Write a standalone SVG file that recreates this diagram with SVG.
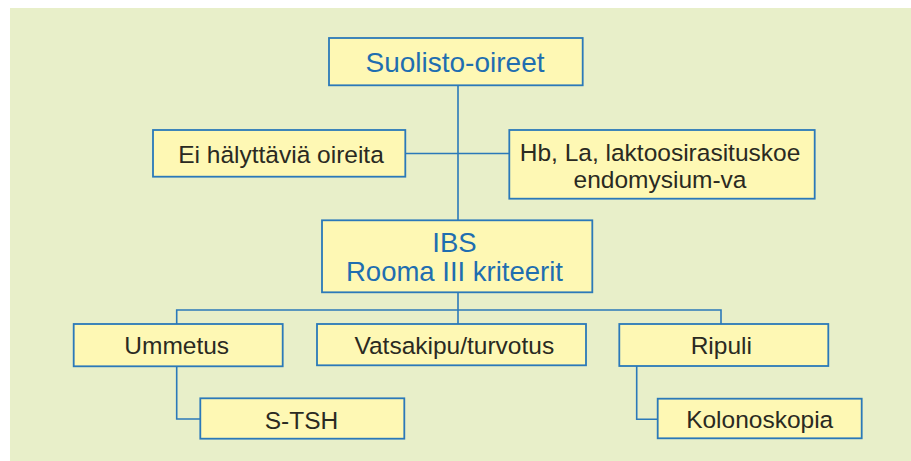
<svg xmlns="http://www.w3.org/2000/svg" width="911" height="461" viewBox="0 0 911 461">
<style>
.box{fill:#fef8b4;stroke:#2b79b9;stroke-width:1.8}
.ln{fill:none;stroke:#2b79b9;stroke-width:1.6}
.t{font-family:"Liberation Sans",Arial,sans-serif;font-size:24.5px;fill:#2a2a22;text-anchor:middle}
.tb{font-family:"Liberation Sans",Arial,sans-serif;fill:#1f6eb0;text-anchor:middle}
</style>
<rect x="10" y="8" width="901" height="453" fill="#e8efc9"/>
<g id="connectors">
<path class="ln" d="M458,85 V220 M405,153.5 H509 M458,292 V324 M176.7,324 V310 H721 V324 M176.7,366 V419 H200.3 M636.7,366 V419.3 H657.7"/>
</g>
<g id="suolisto">
<rect class="box" x="329" y="38" width="253.7" height="47.3"/>
<text class="tb" x="455" y="71.7" font-size="28">Suolisto-oireet</text>
</g>
<g id="ei">
<rect class="box" x="153" y="130" width="252.3" height="46.7"/>
<text class="t" x="281" y="163.3">Ei hälyttäviä oireita</text>
</g>
<g id="hb">
<rect class="box" x="509.3" y="130" width="305.4" height="68.7"/>
<text class="t" x="660" y="160.7">Hb, La, laktoosirasituskoe</text>
<text class="t" x="660" y="188.3">endomysium-va</text>
</g>
<g id="ibs">
<rect class="box" x="322" y="220.3" width="270.3" height="72"/>
<text class="tb" x="454.5" y="251.7" font-size="27.5">IBS</text>
<text class="tb" x="454.5" y="280.7" font-size="27.5">Rooma III kriteerit</text>
</g>
<g id="ummetus">
<rect class="box" x="73.7" y="324" width="209" height="42.3"/>
<text class="t" x="176.7" y="354">Ummetus</text>
</g>
<g id="vatsakipu">
<rect class="box" x="317" y="324" width="269" height="41.3"/>
<text class="t" x="454.3" y="354">Vatsakipu/turvotus</text>
</g>
<g id="ripuli">
<rect class="box" x="619.3" y="324" width="209" height="42"/>
<text class="t" x="721.3" y="354.3">Ripuli</text>
</g>
<g id="stsh">
<rect class="box" x="200.3" y="398.3" width="204" height="40.4"/>
<text class="t" x="301.5" y="428.7">S-TSH</text>
</g>
<g id="kolonoskopia">
<rect class="box" x="657.7" y="398.7" width="204" height="39.6"/>
<text class="t" x="759.7" y="428.3">Kolonoskopia</text>
</g>
</svg>
